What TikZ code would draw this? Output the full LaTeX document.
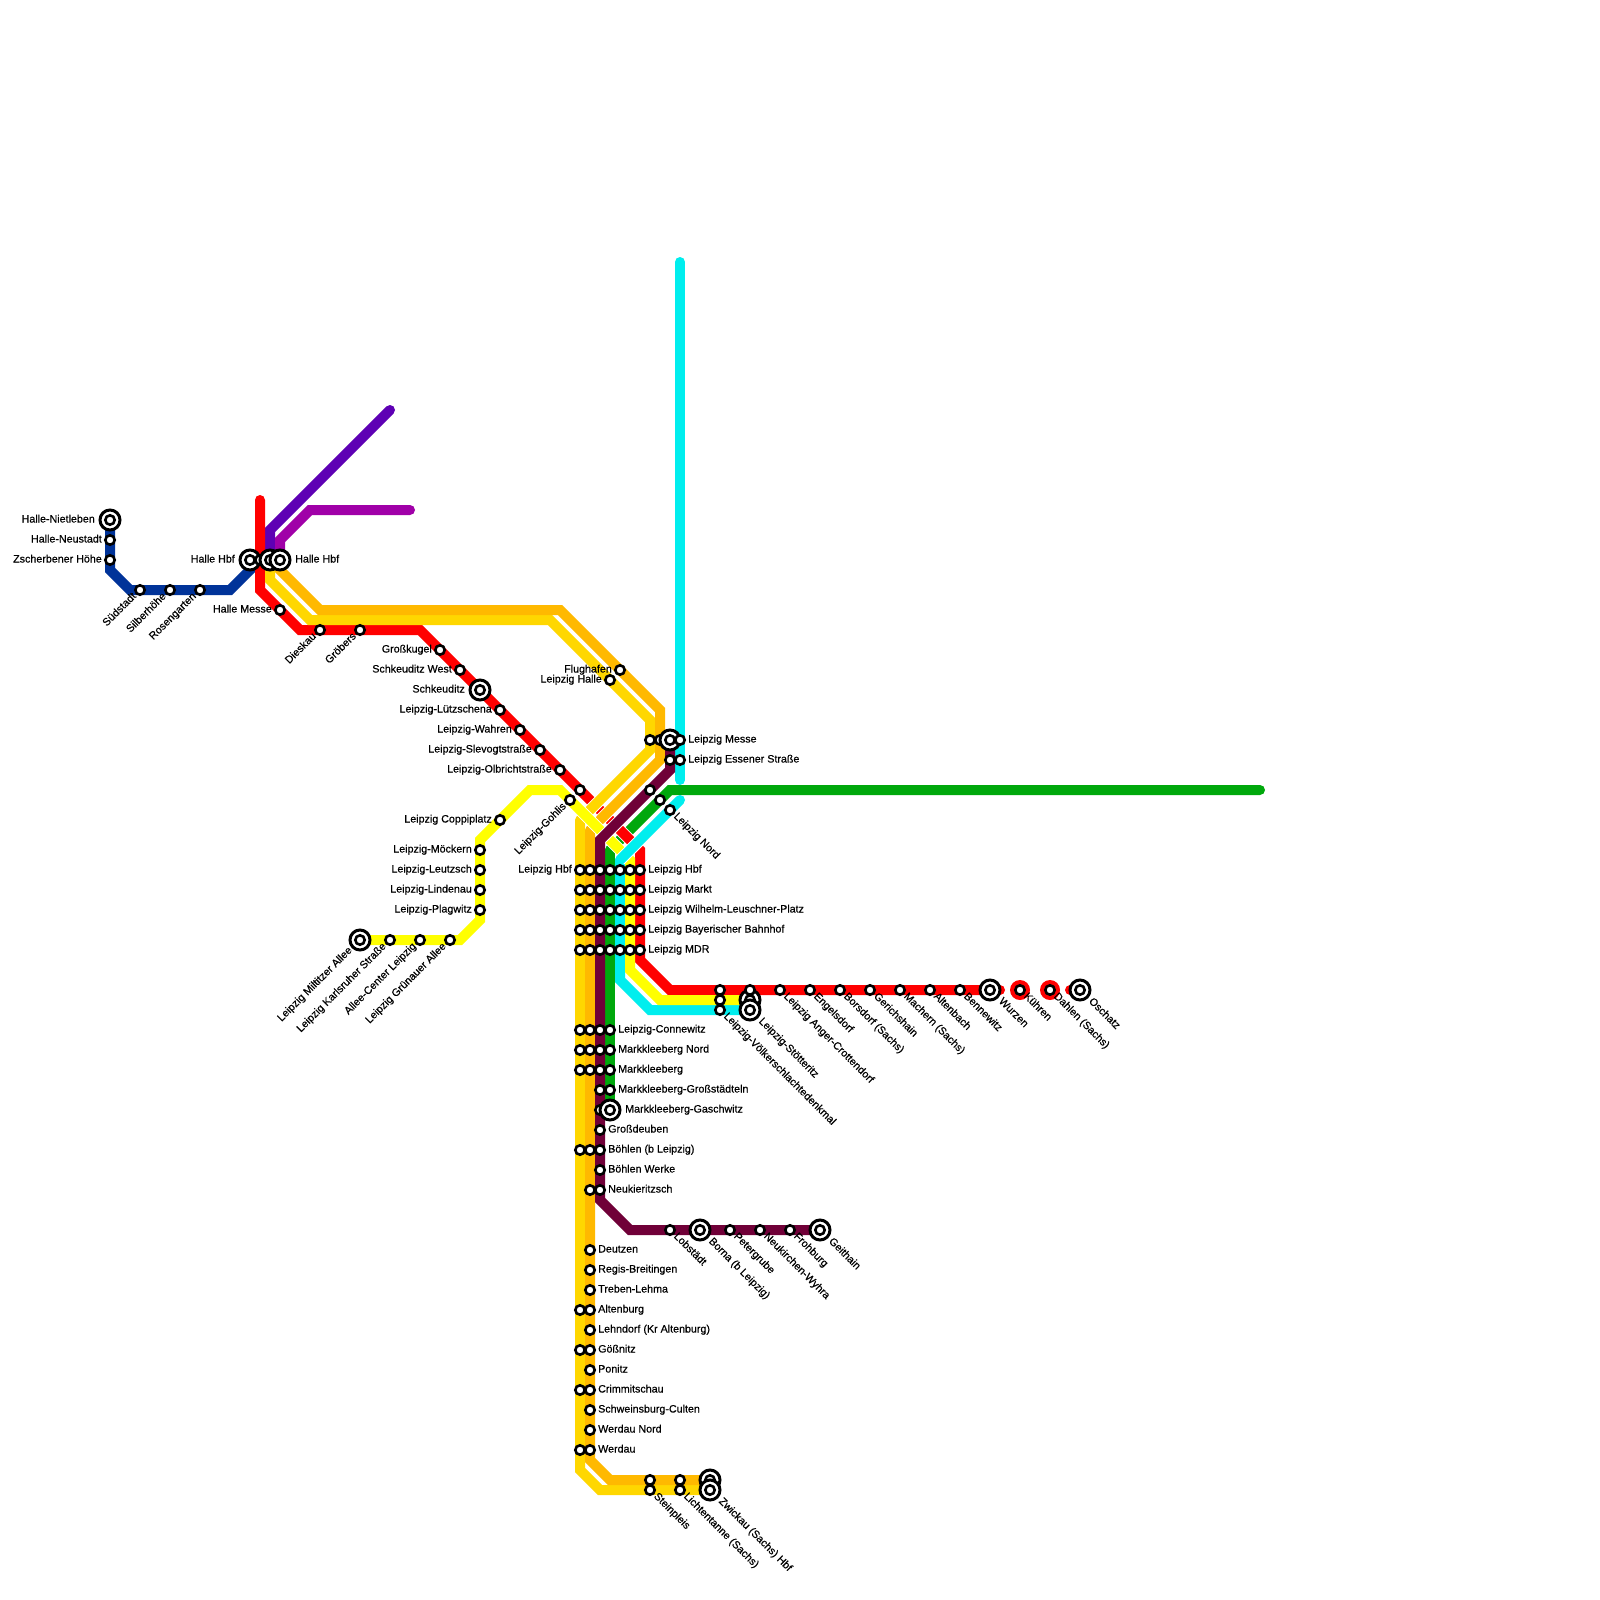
\documentclass[tikz,border=0pt]{standalone}
\usepackage{fontspec}
\setmainfont{Liberation Sans}[FakeBold=0.5]
\pgfdeclarelayer{lines}
\pgfsetlayers{lines,main}
\definecolor{cRed}{HTML}{FF0000}
\definecolor{cBlue}{HTML}{003399}
\definecolor{cPurple}{HTML}{5E00B4}
\definecolor{cMag}{HTML}{A000A8}
\definecolor{cGold}{HTML}{FFD700}
\definecolor{cOrange}{HTML}{FFB900}
\definecolor{cYellow}{HTML}{FFFF00}
\definecolor{cCyan}{HTML}{00EEEE}
\definecolor{cGreen}{HTML}{00A80C}
\definecolor{cMaroon}{HTML}{700038}
\tikzset{
 stn/.style={circle,draw=black,fill=white,line width=2.6pt,minimum size=9.4pt,inner sep=0pt},
 icr/.style={circle,draw=black,fill=white,line width=3pt,minimum size=20pt,inner sep=0pt},
 lab/.style={inner sep=0pt,text=black,text height=5pt,text depth=0pt,font=\fontsize{10.7}{12}\selectfont},
 ln/.style={line width=10pt,line cap=round,line join=miter},
 cas/.style={white,line width=12pt,line cap=butt},
}
\newcommand{\st}[3]{\node[stn] (#1) at (#2,#3) {};}
\newcommand{\ic}[3]{\node[icr] (#1) at (#2,#3) {};\node[stn] (#1c) at (#2,#3) {};}
\newcommand{\lR}[3]{\node[lab,anchor=west] (l#1) at ([xshift=#3pt]#1.center) {#2};}
\newcommand{\lL}[3]{\node[lab,anchor=east] (l#1) at ([xshift=-#3pt]#1.center) {#2};}
\newcommand{\lD}[3]{\node[lab,anchor=west,rotate=-45] (l#1) at ([xshift=#3pt,yshift=-#3pt]#1.center) {#2};}
\newcommand{\lU}[3]{\node[lab,anchor=east,rotate=45] (l#1) at ([xshift=-#3pt,yshift=-#3pt]#1.center) {#2};}
\begin{document}
\begin{tikzpicture}[x=1pt,y=-1pt]
\useasboundingbox (0,0) rectangle (1600,1600);
% corners
\foreach \n/\x/\y in {b1/110/570,b2/130/590,b3/230/590,
 r0/260/500,r1/260/590,r2/300/630,r3/420/630,r4/640/850,r5/640/960,r6/670/990,r7/1000/990,rc/600/810,
 r8/1070/990,
 p1/270/530,p2/390/410,m1/280/540,m2/310/510,m3/410/510,
 o1/280/570,o2/320/610,o3/560/610,o4/660/710,o5/660/760,o6/600/820,o7/590/830,o8/590/1460,o9/610/1480,
 g1/270/580,g2/310/620,g3/550/620,g4/650/720,g5/650/750,g6/585/815,g7/580/820,g8/580/1470,g9/600/1490,
 y1/460/940,y2/480/920,y3/480/840,y4/530/790,y5/560/790,y6/630/860,y7/630/970,y8/660/1000,y9/750/1000,
 c0/680/262,c1/680/780,c2/680/800,c3/620/860,c4/620/980,c5/650/1010,c6/750/1010,
 e1/1260/790,e2/670/790,e3/610/850,
 t1/670/770,t2/600/840,t3/600/1200,t4/630/1230}
 {\coordinate (\n) at (\x,\y);}
% stations: west
\ic{nietleben}{110}{520}\st{neustadt}{110}{540}\st{zscher}{110}{560}
\st{suedstadt}{140}{590}\st{silber}{170}{590}\st{rosen}{200}{590}
\ic{hbfA}{250}{560}\st{hbfB}{260}{560}\ic{hbfC}{270}{560}\ic{hbfD}{280}{560}
\st{hmesse}{280}{610}\st{dieskau}{320}{630}\st{groebers}{360}{630}
\st{kugel}{440}{650}\st{schkw}{460}{670}\ic{schk}{480}{690}
\st{luetz}{500}{710}\st{wahren}{520}{730}\st{slevogt}{540}{750}\st{olbricht}{560}{770}
\st{redx}{580}{790}\st{gohlis}{570}{800}
\st{coppi}{500}{820}\st{moeckern}{480}{850}\st{leutzsch}{480}{870}\st{lindenau}{480}{890}\st{plagwitz}{480}{910}
\ic{miltitz}{360}{940}\st{karls}{390}{940}\st{allee}{420}{940}\st{gruenau}{450}{940}
\st{flug}{620}{670}\st{lehalle}{610}{680}
\st{messeA}{650}{740}\st{messeB}{660}{740}\ic{messeC}{670}{740}\st{messeD}{680}{740}
\st{essA}{670}{760}\st{essB}{680}{760}
\st{nordA}{650}{790}\st{nordB}{660}{800}\st{nordC}{670}{810}
% city tunnel grid
\foreach \x in {580,590,600,610,620,630,640}
 \foreach \y in {870,890,910,930,950} {\st{L\x-\y}{\x}{\y}}
\foreach \y in {1030,1050,1070}\foreach \x in {580,590,600,610} {\st{L\x-\y}{\x}{\y}}
\st{L600-1090}{600}{1090}\st{L610-1090}{610}{1090}
\st{L600-1110}{600}{1110}\ic{L610-1110}{610}{1110}
\st{L600-1130}{600}{1130}
\st{L580-1150}{580}{1150}\st{L590-1150}{590}{1150}\st{L600-1150}{600}{1150}
\st{L600-1170}{600}{1170}
\st{L590-1190}{590}{1190}\st{L600-1190}{600}{1190}
\foreach \y in {1250,1270,1290,1310,1330,1350,1370,1390,1410,1430,1450} {\st{L590-\y}{590}{\y}}
\foreach \y in {1310,1350,1390,1450} {\st{L580-\y}{580}{\y}}
\st{steinA}{650}{1480}\st{steinB}{650}{1490}\st{lichtA}{680}{1480}\st{lichtB}{680}{1490}
\ic{zwiA}{710}{1480}\ic{zwiB}{710}{1490}
% south-east
\st{lob}{670}{1230}\ic{borna}{700}{1230}\st{peter}{730}{1230}\st{neuk}{760}{1230}\st{froh}{790}{1230}\ic{geit}{820}{1230}
% east
\st{voelkA}{720}{990}\st{voelkB}{720}{1000}\st{voelkC}{720}{1010}
\ic{stoeB}{750}{1000}\st{stoeA}{750}{990}\ic{stoeC}{750}{1010}
\st{anger}{780}{990}\st{engels}{810}{990}\st{bors}{840}{990}\st{geri}{870}{990}\st{mach}{900}{990}\st{alten}{930}{990}\st{benne}{960}{990}
\ic{wurzen}{990}{990}\st{kuehren}{1020}{990}\st{dahlen}{1050}{990}\ic{oschatz}{1080}{990}
% labels
\lL{nietleben}{Halle-Nietleben}{15}\lL{neustadt}{Halle-Neustadt}{8}\lL{zscher}{Zscherbener Höhe}{8}
\lU{suedstadt}{Südstadt}{5}\lU{silber}{Silberhöhe}{5}\lU{rosen}{Rosengarten}{5}
\lL{hbfA}{Halle Hbf}{15}\lR{hbfD}{Halle Hbf}{15}\lL{hmesse}{Halle Messe}{8}
\lU{dieskau}{Dieskau}{5}\lU{groebers}{Gröbers}{5}
\lL{kugel}{Großkugel}{8}\lL{schkw}{Schkeuditz West}{8}\lL{schk}{Schkeuditz}{15}
\lL{luetz}{Leipzig-Lützschena}{8}\lL{wahren}{Leipzig-Wahren}{8}\lL{slevogt}{Leipzig-Slevogtstraße}{8}\lL{olbricht}{Leipzig-Olbrichtstraße}{8}
\lU{gohlis}{Leipzig-Gohlis}{5}\lL{coppi}{Leipzig Coppiplatz}{8}
\lL{moeckern}{Leipzig-Möckern}{8}\lL{leutzsch}{Leipzig-Leutzsch}{8}\lL{lindenau}{Leipzig-Lindenau}{8}\lL{plagwitz}{Leipzig-Plagwitz}{8}
\lU{miltitz}{Leipzig Miltitzer Allee}{9}\lU{karls}{Leipzig Karlsruher Straße}{5}\lU{allee}{Allee-Center Leipzig}{5}\lU{gruenau}{Leipzig Grünauer Allee}{5}
\lL{flug}{Flughafen}{8}\lL{lehalle}{Leipzig Halle}{8}
\lR{messeD}{Leipzig Messe}{8}\lR{essB}{Leipzig Essener Straße}{8}\lD{nordC}{Leipzig Nord}{5}
\lL{L580-870}{Leipzig Hbf}{8}
\lR{L640-870}{Leipzig Hbf}{8}\lR{L640-890}{Leipzig Markt}{8}\lR{L640-910}{Leipzig Wilhelm-Leuschner-Platz}{8}\lR{L640-930}{Leipzig Bayerischer Bahnhof}{8}\lR{L640-950}{Leipzig MDR}{8}
\lR{L610-1030}{Leipzig-Connewitz}{8}\lR{L610-1050}{Markkleeberg Nord}{8}\lR{L610-1070}{Markkleeberg}{8}\lR{L610-1090}{Markkleeberg-Großstädteln}{8}\lR{L610-1110}{Markkleeberg-Gaschwitz}{15}
\lR{L600-1130}{Großdeuben}{8}\lR{L600-1150}{Böhlen (b Leipzig)}{8}\lR{L600-1170}{Böhlen Werke}{8}\lR{L600-1190}{Neukieritzsch}{8}
\lR{L590-1250}{Deutzen}{8}\lR{L590-1270}{Regis-Breitingen}{8}\lR{L590-1290}{Treben-Lehma}{8}\lR{L590-1310}{Altenburg}{8}\lR{L590-1330}{Lehndorf (Kr Altenburg)}{8}\lR{L590-1350}{Gößnitz}{8}\lR{L590-1370}{Ponitz}{8}\lR{L590-1390}{Crimmitschau}{8}\lR{L590-1410}{Schweinsburg-Culten}{8}\lR{L590-1430}{Werdau Nord}{8}\lR{L590-1450}{Werdau}{8}
\lD{steinB}{Steinpleis}{5}\lD{lichtB}{Lichtentanne (Sachs)}{5}\lD{zwiB}{Zwickau (Sachs) Hbf}{10}
\lD{lob}{Lobstädt}{5}\lD{borna}{Borna (b Leipzig)}{10}\lD{peter}{Petergrube}{5}\lD{neuk}{Neukirchen-Wyhra}{5}\lD{froh}{Frohburg}{5}\lD{geit}{Geithain}{10}
\lD{voelkC}{Leipzig-Völkerschlachtedenkmal}{5}\lD{stoeC}{Leipzig-Stötteritz}{10}
\lD{anger}{Leipzig Anger-Crottendorf}{5}\lD{engels}{Engelsdorf}{5}\lD{bors}{Borsdorf (Sachs)}{5}\lD{geri}{Gerichshain}{5}\lD{mach}{Machern (Sachs)}{5}\lD{alten}{Altenbach}{5}\lD{benne}{Bennewitz}{5}
\lD{wurzen}{Wurzen}{10}\lD{kuehren}{Kühren}{5}\lD{dahlen}{Dahlen (Sachs)}{5}\lD{oschatz}{Oschatz}{10}
% lines
\begin{pgfonlayer}{lines}
\fill[white] (0,0) rectangle (1600,1600);
\draw[ln,cCyan] (c0) -- (c1);
\draw[ln,cCyan] (c3) -- (c4) -- (c5) -- (c6);
\draw[ln,cPurple] (hbfC.center) -- (p1) -- (p2);
\draw[ln,cMag] (hbfD.center) -- (m1) -- (m2) -- (m3);
\draw[ln,cBlue] (nietleben.center) -- (b1) -- (b2) -- (b3) -- (hbfB.center);
\draw[ln,cGreen] (e3) -- (L610-1110.center);
\draw[ln,cGreen] (e1) -- (e2) -- (e3);
\draw[cas] (rc) -- (r4);
\draw[ln,cRed] (r0) -- (r1) -- (r2) -- (r3) -- (r4) -- (r5) -- (r6) -- (r7);
\draw[ln,cRed] (r8) -- (oschatz.center);
\fill[cRed] (kuehren.center) circle (10pt) (dahlen.center) circle (10pt);
\draw[cas] (g5) -- (g6);
\draw[ln,cGold] (hbfC.center) -- (g1) -- (g2) -- (g3) -- (g4) -- (g5) -- (g6);
\draw[ln,cGold] (g7) -- (g8) -- (g9) -- (zwiB.center);
\draw[cas] (o5) -- (o6);
\draw[ln,cOrange] (hbfD.center) -- (o1) -- (o2) -- (o3) -- (o4) -- (o5) -- (o6);
\draw[ln,cOrange] (o7) -- (o8) -- (o9) -- (zwiA.center);
\draw[cas] (y5) -- (y6);
\draw[ln,cYellow] (miltitz.center) -- (y1) -- (y2) -- (y3) -- (y4) -- (y5) -- (y6) -- (y7) -- (y8) -- (y9);
\draw[cas] (t1) -- (t2);
\draw[ln,cMaroon] (messeC.center) -- (t1) -- (t2) -- (t3) -- (t4) -- (geit.center);
\draw[cas] (c2) -- (c3);
\draw[ln,cCyan] (c2) -- (c3);
\end{pgfonlayer}
\end{tikzpicture}
\end{document}
